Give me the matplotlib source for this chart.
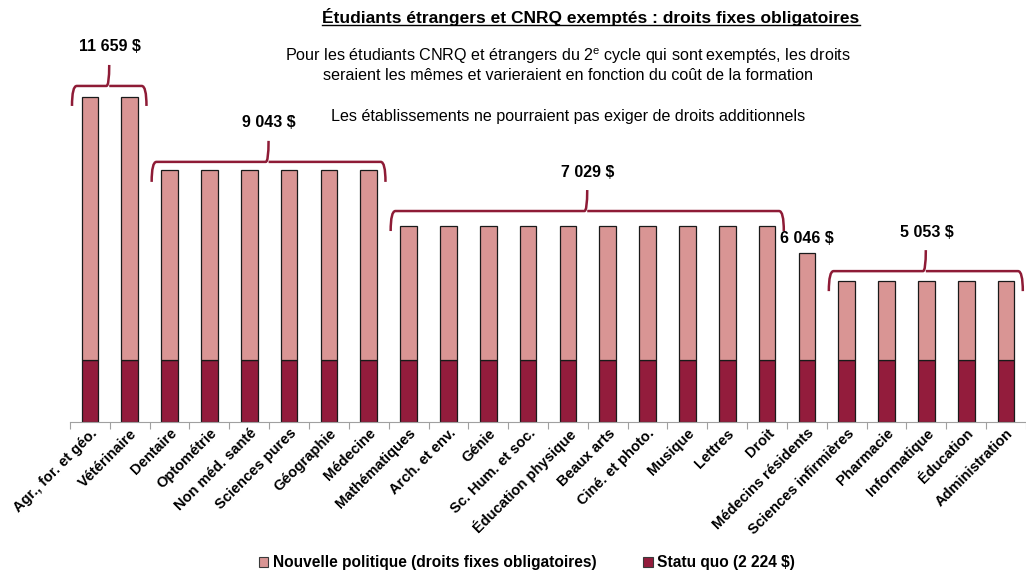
import matplotlib
matplotlib.use("Agg")
import matplotlib.pyplot as plt
from matplotlib.path import Path
from matplotlib.patches import PathPatch, Patch

PINK = "#D99594"
DARK_RED = "#931C3C"
BRACE = "#8E1B36"
EDGE = "#3A3A3A"

categories = [
    "Agr., for. et géo.", "Vétérinaire", "Dentaire", "Optométrie", "Non méd. santé",
    "Sciences pures", "Géographie", "Médecine", "Mathématiques", "Arch. et env.",
    "Génie", "Sc. Hum. et soc.", "Éducation physique", "Beaux arts", "Ciné. et photo.",
    "Musique", "Lettres", "Droit", "Médecins résidents", "Sciences infirmières",
    "Pharmacie", "Informatique", "Éducation", "Administration",
]
totals = [11659] * 2 + [9043] * 6 + [7029] * 10 + [6046] + [5053] * 5
statu_quo = 2224

# groups of bars sharing the same fee: (first index, last index, label)
groups = [(0, 1, "11 659 $"), (2, 7, "9 043 $"), (8, 17, "7 029 $"), (19, 23, "5 053 $")]
single_labels = [(18, "6 046 $")]

plt.rcParams["font.family"] = ["Liberation Sans", "DejaVu Sans"]

W, H = 1026, 577
fig = plt.figure(figsize=(W / 100, H / 100), dpi=100)
ax = fig.add_axes([70 / W, (H - 422) / H, (W - 70) / W, 422 / H])

PX = 0.02788  # pixels per dollar
ax.set_ylim(0, 422 / PX)
ax.set_xlim(-0.5, -0.5 + (W - 70) / 40.1)

x = range(len(categories))
new_part = [t - statu_quo for t in totals]
ax.bar(x, [statu_quo] * len(categories), width=0.42, color=DARK_RED,
       edgecolor="#1a1a1a", linewidth=0.9)
ax.bar(x, new_part, width=0.42, bottom=statu_quo, color=PINK,
       edgecolor="#1a1a1a", linewidth=0.9)

for s in ["top", "right", "left"]:
    ax.spines[s].set_visible(False)
ax.spines["bottom"].set_color("#A0A0A0")
ax.set_yticks([])
ax.set_xticks([i - 0.5 for i in range(len(categories) + 1)], minor=False)
ax.set_xticklabels([])
ax.tick_params(axis="x", which="major", length=5, color="#A0A0A0", direction="out")
ax.set_xticks(list(x), minor=True)
ax.set_xticklabels(categories, minor=True, rotation=45, ha="right",
                   rotation_mode="anchor", fontsize=10.5, fontweight="bold")
ax.tick_params(axis="x", which="minor", length=0, pad=3)


def brace(x0, x1, y_h, drop, tip):
    xm = (x0 + x1) / 2
    r = 0.12
    verts = [
        (x0, y_h - drop), (x0, y_h), (x0 + r, y_h),
        (xm - r * 0.6, y_h), (xm, y_h), (xm, y_h + tip),
        (xm, y_h), (xm + r * 0.6, y_h),
        (x1 - r, y_h), (x1, y_h), (x1, y_h - drop),
    ]
    codes = [Path.MOVETO, Path.CURVE3, Path.CURVE3,
             Path.LINETO, Path.CURVE3, Path.CURVE3,
             Path.MOVETO, Path.LINETO,
             Path.LINETO, Path.CURVE3, Path.CURVE3]
    ax.add_patch(PathPatch(Path(verts, codes), fill=False, edgecolor=BRACE,
                           linewidth=1.8, capstyle="butt"))


above = [11, 8, 15, 10]
for (i0, i1, label), a in zip(groups, above):
    top = totals[i0]
    y_h = top + a / PX
    brace(i0 - 0.45, i1 + 0.42, y_h, 20 / PX, 21 / PX)
    ax.text((i0 + i1) / 2, y_h + 39 / PX, label, ha="center", va="center",
            fontsize=11.5, fontweight="bold")

for i, label in single_labels:
    ax.text(i, totals[i] + 15 / PX, label, ha="center", va="center",
            fontsize=11.5, fontweight="bold")

# title and notes
title = fig.text(591 / W, 1 - 17 / H, "Étudiants étrangers et CNRQ exemptés : droits fixes obligatoires",
                 ha="center", va="center", fontsize=12.5, fontweight="bold")
fig.canvas.draw()
bb = title.get_window_extent(fig.canvas.get_renderer())
fig.add_artist(plt.Line2D([bb.x0 / W, bb.x1 / W], [(bb.y0 + 1) / H, (bb.y0 + 1) / H],
                          color="black", linewidth=1.0, transform=fig.transFigure))

note_size = 11.6
fig.text(568 / W, 1 - 56 / H,
         r"Pour les étudiants CNRQ et étrangers du 2$^{\mathregular{e}}$ cycle qui sont exemptés, les droits",
         ha="center", va="center", fontsize=note_size)
fig.text(568 / W, 1 - 75 / H, "seraient les mêmes et varieraient en fonction du coût de la formation",
         ha="center", va="center", fontsize=note_size)
fig.text(568 / W, 1 - 116 / H, "Les établissements ne pourraient pas exiger de droits additionnels",
         ha="center", va="center", fontsize=note_size)

handles = [Patch(facecolor=PINK, edgecolor=EDGE, linewidth=0.8),
           Patch(facecolor=DARK_RED, edgecolor=EDGE, linewidth=0.8)]
labels = ["Nouvelle politique (droits fixes obligatoires)", "Statu quo (2 224 $)"]
fig.legend(handles, labels, loc="center", bbox_to_anchor=(527 / W, 1 - 563 / H), ncol=2,
           frameon=False, prop={"weight": "bold", "size": 11.2}, handlelength=0.6,
           handleheight=0.6, handletextpad=0.3, columnspacing=3)

fig.savefig("out.png", dpi=100)
